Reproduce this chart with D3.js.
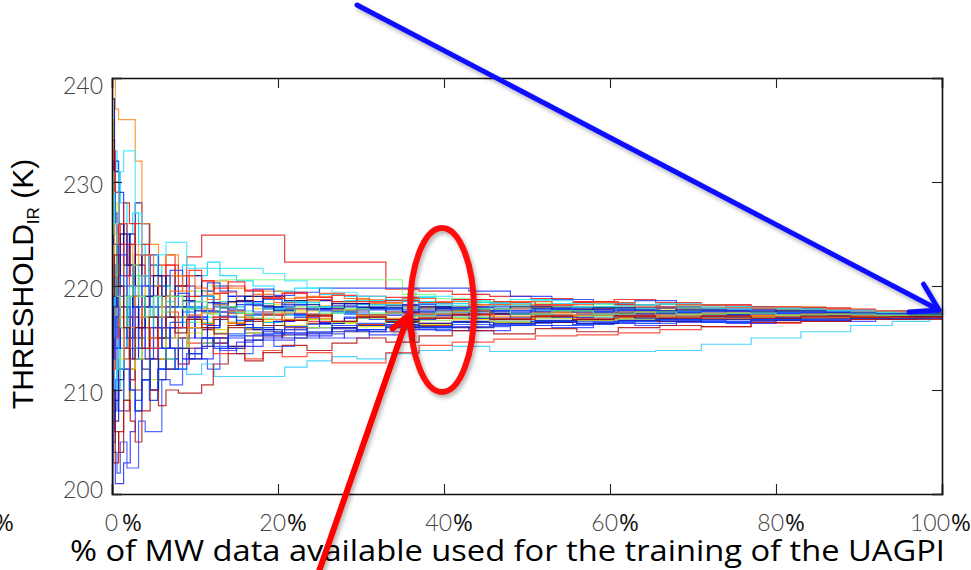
<!DOCTYPE html>
<html>
<head>
<meta charset="utf-8">
<script src="https://cdn.jsdelivr.net/npm/d3@7"></script>
<style>
  body { margin: 0; background: #fff; }
  svg { display: block; }
</style>
</head>
<body>
<div id="chart"></div>
<script>
// sample positions (% of MW data); runs use one of three step grids in turn
const pctStepsA = [0, 0.2, 0.6, 1, 1.8, 2.5, 3.2, 4, 5, 6, 7, 8.5, 10, 11.5, 13, 15, 17, 19.5, 22, 25,
                   28, 31, 35, 39, 43, 48, 53, 58, 63, 68, 74, 80, 86, 92, 97, 100];
const pctStepsB = [0, 0.3, 0.8, 1.4, 2.1, 2.8, 3.6, 4.5, 5.5, 6.5, 7.6, 9, 10.8, 12.3, 14, 16, 18.2, 20.8, 23.5, 26.5,
                   29.5, 33, 37, 41, 45.5, 50.5, 55.5, 60.5, 65.5, 71, 77, 83, 89, 94, 98.5, 100];
const pctStepsC = [0, 0.1, 0.4, 0.8, 1.4, 2.2, 2.8, 3.6, 4.6, 5.6, 6.5, 8, 9.3, 10.8, 12.2, 14, 16, 18.2, 20.5, 23.5,
                   26.5, 29.5, 33, 37, 41, 46, 51, 56, 61, 66, 71, 77, 83, 89, 95, 100];

// threshold values (K) of each training run
const runs = [
  [212,208,214,219,222,218,215,217,219,216,214,215,217,216,218,217,216,215.5,216,216.5,217,216.8,217.2,217.5,217.3,217,217.2,217.4,217.1,216.9,217,217.2,217.1,217,217.1,217.1],
  [225,230,226,221,224,228,226,222,220,221,219,218,219.5,220,219,218.5,219,218.2,218.6,218,218.3,218.1,217.8,218,218.3,218,217.7,217.9,218,217.6,217.5,217.7,217.4,217.3,217.2,217.2],
  [205,203,201,201,203,206,209,211,210,212,213,212.5,214,213,214.5,215,214.2,215,215.5,215.2,216,215.8,216.2,216,216.5,216.3,216.6,216.4,216.7,216.8,216.6,216.9,216.8,217,216.9,216.9],
  [230,233,231,228,225,227,224,221,222,220,221,222,221,222.3,221,220.5,220,219.5,219.8,219.2,219,218.6,218.9,218.3,218.5,218.2,218,218.3,217.9,217.8,218,217.7,217.6,217.5,217.4,217.4],
  [218,222,226,224,220,223,221,219,222,223,221,222.8,224.9,224.9,224.9,224.9,224.9,222.3,222.3,222.3,222.3,219.7,219.5,219.2,219,218.8,218.5,218.7,218.4,218.2,218,217.8,217.6,217.5,217.4,217.4],
  [240,240,237,236,236,236,232,226,224,222,223,221,220,219,220.5,219.8,219,219.5,218.8,219,218.5,218.7,218.2,218.4,218,218.2,217.9,218,217.8,217.9,217.6,217.7,217.5,217.4,217.3,217.3],
  [236,228,222,218,215,217,219,216,218,217,219,218,216.5,217.5,218,217,217.8,218.2,217.6,218,217.7,218.1,217.9,217.6,217.8,218,217.7,217.5,217.8,217.6,217.4,217.5,217.3,217.3,217.2,217.2],
  [210,206,204,208,212,210,213,215,214,212,214,216,215,214.5,216,215.5,216.2,215.8,216.4,216,216.3,216.6,216.2,216.5,216.8,216.5,216.7,216.9,216.6,216.8,216.9,216.7,216.9,217,216.95,216.95],
  [220,226,232,229,225,221,218,220,223,221,219,220,218,219,218.2,219,218.5,217.8,218.4,218,217.6,218,217.7,218,217.5,217.8,217.5,217.3,217.6,217.4,217.2,217.3,217.2,217.1,217.2,217.2],
  [208,204,202,205,202.5,202.5,207,206,206,211,210.5,213,213,212,214,213.5,214.8,214.2,215,215.4,215,215.6,216,215.7,216.1,216.4,216.2,216.5,216.4,216.7,216.6,216.8,216.9,216.8,216.9,216.9],
  [214,210,208,212,215,213,211,213,214,213,212,211.5,212.5,211.3,211.3,211.3,211.3,212.2,212.8,213.2,213,213.5,213.8,214.2,213.7,213.7,213.7,213.7,213.8,214.4,215,215.6,216.2,216.6,216.9,216.9],
  [222,218,213,210,214,216,213,211,213,215,214,212.5,214,215,213.5,214.2,213,213.8,213.2,213.6,212.6,212.6,213.6,214.3,214.6,214.9,215.2,215.3,215.5,215.8,216.1,216.4,216.6,216.8,216.9,216.9],
  [224,219,216,220,223,219,221,218,217,219,220,218.5,219.5,220,220.6,220.6,220.6,220.6,220.6,220.6,220.6,220.6,219.2,218.8,218.5,218.3,218,218.2,217.9,218.1,217.8,217.9,217.6,217.5,217.4,217.4],
  [216,221,224,219,214,216,219,217,215,217,218,216,217.5,218,216.5,217.2,218,217.3,216.8,217.5,217.9,217.4,217,217.6,217.3,217.8,217.5,217.2,217.5,217.3,217.6,217.4,217.2,217.3,217.2,217.2],
  [200,205,209,212,209,211,214,212,210,213,214,215,213.5,214.5,215,214.2,215.2,215.8,215.3,216,215.6,216.2,216.5,216.1,216.6,216.9,216.5,216.8,217,216.8,217,216.9,217.1,217,217,217],
  [219,225,221,217,220,224,222,219,217,219,221,219.5,218,219.2,218.4,219,218.3,217.8,218.6,218.1,217.7,218.3,218,217.6,218.1,217.8,217.5,217.9,217.6,217.8,217.5,217.6,217.4,217.3,217.3,217.3],
  [213,217,220,215,211,214,217,215,213,215,216,214.5,216,215,216.4,215.8,215.2,216,216.6,215.9,216.3,216.8,216.4,216.9,216.6,217,216.7,217,216.8,217.1,216.9,217,216.9,217,217,217],
  [226,222,218,215,219,216,214,217,219,217,215,216,217.8,216.4,217,218,217.2,216.5,217.2,216.8,217.4,217,216.7,217.3,217,216.8,217.2,217,217.4,217.1,217.3,217.2,217.1,217.2,217.1,217.1],
  [232,227,223,226,222,219,222,220,218,220,221.5,220,219,220.3,219.5,219,219.7,219.1,219.4,219.8,219.8,219.8,219.8,219.8,219.5,219,218.7,218.4,218.6,218.2,218,217.9,217.7,217.6,217.5,217.5],
  [221,216,212,216,219,215,218,220,217,216,218,217,215.8,216.8,217.4,216.6,217.2,217.8,217.1,217.6,217.2,216.8,217.3,217.7,217.3,217.5,217.8,217.4,217.6,217.3,217.5,217.4,217.3,217.2,217.2,217.2],
  [207,212,216,213,209,212,215,213,211,213,215,214,215.5,216.5,215.8,216.5,215.9,216.6,216.2,216.8,216.4,216.1,216.6,216.3,216.8,216.5,216.9,216.7,216.9,217,216.8,217,216.9,217,217,217],
  [228,224,218,214,217,213,216,218,216,214,216,217,215,216.2,217,216.3,215.8,216.6,217,216.4,216.9,217.2,216.8,217.2,216.9,217.3,217,217.2,216.9,217.1,217.2,217,217.1,217.1,217.1,217.1],
  [234,229,225,228,226,222,224,221,220,222,220,219,220.5,219.3,220,219.5,218.8,219.4,218.9,218.5,219,218.6,218.3,218.7,218.4,218.1,218.4,218.2,217.9,218.1,217.8,217.9,217.6,217.5,217.4,217.4],
  [203,207,211,208,213,216,213,211,214,212,213,215,216,215,214.2,215.4,216,215.2,215.8,216.3,215.9,216.4,216.1,215.8,216.3,216.6,216.2,216.6,216.4,216.7,216.5,216.8,216.7,216.9,216.9,216.9],
  [217,213,210,214,218,221,219,216,218,220,218,216.5,218,217,218.5,217.6,218.3,217.9,218.4,218,218.6,218.2,218.5,218.1,218.4,218.7,218.3,218,218.2,217.9,218,217.8,217.6,217.5,217.4,217.4],
  [238,231,226,222,225,220,223,219,221,218,220,221,219,217.5,218.5,219,218,218.6,217.8,218.3,217.9,217.5,218,217.7,217.4,217.8,217.5,217.7,217.4,217.6,217.4,217.5,217.3,217.3,217.2,217.2],
  [209,214,218,216,212,215,217,214,216,218,216,215,216.8,217.8,217,216.4,217.3,216.8,217.4,216.9,216.5,217.1,217.5,217,217.3,216.9,217.2,217.4,217.1,217.3,217.1,217.2,217.1,217.1,217.1,217.1],
  [222,217,214,218,215,218,215,213,216,214,216,218,217,216,217.5,218.2,217.5,218,217.3,217.8,217.5,217.9,218.2,217.8,218,217.6,217.9,217.7,217.9,217.5,217.7,217.5,217.4,217.3,217.3,217.3],
  [214,218,222,219,216,213,215,218,216,213,214,216,214.5,215.5,216.2,215.5,216.2,216.8,216,216.5,216.9,216.3,216.7,217,216.6,216.9,217.1,216.8,217,216.9,217.1,217,217,217,217,217],
  [227,233,229,224,221,224,226,223,219,221,222,220,221.5,220.5,219.8,220.4,219.6,218.9,219.3,218.7,219.1,218.5,218.9,218.4,218.7,218.5,218.2,218.5,218.1,218.3,217.9,218,217.7,217.6,217.5,217.5],
  [211,215,219,223,220,217,214,216,214,216,214,213,214,215,213.8,214.6,215.3,214.8,215.4,215,215.7,215.3,215.8,216.1,215.7,216.2,216,216.4,216.2,216.5,216.4,216.7,216.6,216.8,216.9,216.9],
  [229,226,231,233,233,227,223,220,223,224.2,224.2,221.7,221.7,221.7,221.7,221.7,221.2,220.5,219.8,219.4,219,218.7,219,218.6,218.3,218.6,218.3,218.1,218.3,218,217.9,217.7,217.6,217.5,217.5,217.5],
  [215,210,207,211,214,210,208,211,213,211,212,214,213,214.2,215,214,214.8,215.6,215,215.5,216,215.6,216,216.4,216,216.4,216.7,216.4,216.7,216.6,216.8,216.7,216.9,216.9,216.95,216.95],
  [223,219,223,226,222,219,221,223,220,218,219.5,221,219.8,218.7,219.4,218.6,219.2,218.4,218.9,219.3,218.8,218.4,218.8,218.5,218.2,218.5,218.2,218.4,218,218.2,217.9,218,217.8,217.6,217.5,217.5],
  [218,214,216,212,210,208,211,209,212,214,212,213.5,215,214,215.2,216,215.4,216.1,215.6,216.2,215.8,216.3,216,216.5,216.2,216.6,216.3,216.6,216.8,216.5,216.8,216.7,216.9,216.9,217,217],
  [212,207,203,206,209,207,205,208,210,208.5,210,209.7,209.7,210.5,212.5,213.5,212.8,213.6,214.3,213.8,214.5,215,214.6,215.2,215.7,215.4,215.9,215.6,216,216.2,216.1,216.5,216.6,216.8,216.8,216.8],
  [216,219,223,220,217,219,216,218,217,215,216.5,217.5,216.8,217.6,217.1,216.7,217.3,217.7,217.2,217.6,217.3,217.8,217.5,217.2,217.6,217.4,217.7,217.5,217.3,217.5,217.3,217.4,217.3,217.2,217.2,217.2],
  [220,215,212,216,220,218,221,219,217,218.5,217,218,219,218.2,217.5,218.3,217.8,218.5,218,217.6,218.2,217.9,218.3,217.8,218.1,217.7,218,217.8,217.6,217.8,217.5,217.6,217.4,217.3,217.3,217.3],
  [217,212,215,218,214,217,219,216,214,216,217.5,216,217.2,216.3,217,217.6,216.8,217.3,216.7,217.1,216.6,217,217.4,216.9,217.2,216.8,217.1,216.9,217.2,217,216.9,217.1,217,217,217,217],
  [213,218,221,225,222,218,216,219,221,219,217,218.6,217.6,218.4,217.9,218.6,218.1,217.6,218.2,217.8,218.3,217.9,217.5,217.9,217.6,218,217.7,217.9,217.6,217.7,217.5,217.6,217.4,217.3,217.2,217.2],
  [226,221,217,213,216,219,217,215,217,219,217,216,217.4,218.2,217.6,216.9,217.5,216.8,217.3,217.7,217.2,216.9,217.3,217.6,217.1,217.4,217.2,217.5,217.2,217.4,217.2,217.3,217.2,217.2,217.1,217.1],
  [209,213,217,221,218,215,218,220,218,216,218,219.3,218.5,217.6,218.3,217.7,218.2,218.7,218.2,217.7,218.1,217.7,218.1,217.6,217.9,217.6,217.8,217.5,217.7,217.5,217.6,217.4,217.5,217.3,217.3,217.3],
  [231,225,219,216,219,222,219,217,219,217.5,219,217.8,218.5,217.3,218,217.4,216.9,217.5,218,217.4,217.8,217.4,217.1,217.5,217.8,217.3,217.6,217.3,217.5,217.3,217.4,217.2,217.3,217.2,217.2,217.2],
  [219,223,220,216,213,216,214,217,215,217,215.5,216.8,216,215.4,216.2,216.8,216.2,216.7,217.2,216.6,217,216.6,216.9,217.3,216.8,217.1,216.8,217.1,216.9,217.1,216.9,217.1,217,217.05,217.05,217.05]
];

const xMajorTicks = [0, 20, 40, 60, 80, 100];
const xTickNumbers = ["0", "20", "40", "60", "80", "100"];
const yMajorTicks = [200, 210, 220, 230, 240];

// jet-like colours, one per run
const jetColors = ["#1f3cff","#00009c","#2a2aff","#00d8ff","#e8201a","#ff8a1c","#f2d600","#a0141a","#0030ff",
  "#3050ff","#33ccff","#ff3c28","#7cff7c","#1448ff","#10108a","#ffa020","#f03020","#00b8f0","#2040ff",
  "#8c0a10","#e0e000","#0000e0","#d81818","#2858ff","#10e0e8","#000080","#ff7010","#1030f0","#9cf060",
  "#ff2020","#3a3aff","#40e8ff","#1a1aa8","#ff5a20","#0040ff","#b01010",
  "#0050ff","#20d0ff","#ff2a10","#0a0a90","#ff9010","#2840ff","#60f080","#900a10"];

const width = 971, height = 570;
const plot = {left: 112, right: 942, top: 78, bottom: 494};

const svg = d3.select("#chart").append("svg")
    .attr("width", width)
    .attr("height", height)
    .style("background", "#fff");

const x = d3.scaleLinear().domain([0, 100]).range([plot.left, plot.right]);
const y = d3.scaleLinear().domain([200, 240]).range([plot.bottom, plot.top]);
const color = d3.scaleOrdinal().domain(d3.range(runs.length)).range(jetColors);
const grids = [pctStepsA, pctStepsB, pctStepsC];

const defs = svg.append("defs");
defs.append("clipPath").attr("id", "plotclip")
  .append("rect")
    .attr("x", plot.left).attr("y", plot.top)
    .attr("width", plot.right - plot.left).attr("height", plot.bottom - plot.top);

const shadow = defs.append("filter").attr("id", "shadow")
    .attr("x", "-10%").attr("y", "-10%").attr("width", "130%").attr("height", "130%");
shadow.append("feDropShadow")
    .attr("dx", 2).attr("dy", 3).attr("stdDeviation", 2)
    .attr("flood-color", "#000").attr("flood-opacity", 0.3);

// runs
function runLine(vals, k){
    const steps = grids[k % grids.length];
    return d3.line()
        .x((d, i) => x(steps[i]))
        .y(d => y(d))
        .curve(d3.curveStepAfter)(vals);
}

svg.append("g").attr("clip-path", "url(#plotclip)")
  .selectAll("path")
  .data(runs)
  .join("path")
    .attr("d", (d, i) => runLine(d, i))
    .attr("fill", "none")
    .attr("stroke", (d, i) => color(i))
    .attr("stroke-width", 1.2)
    .attr("stroke-opacity", 0.85);

// frame with inward ticks (IDL style)
const xMinor = d3.range(0, 101, 5);
const yMinor = d3.range(200, 241, 1);

function addAxis(axisFn, scale, translate, major, minor){
    const g = svg.append("g").attr("transform", translate);
    g.call(axisFn(scale).tickValues(minor).tickSize(-5).tickFormat(""));
    g.call(axisFn(scale).tickValues(major).tickSize(-10).tickFormat(""));
    g.selectAll("line").attr("stroke", "#222").attr("stroke-width", 1.1);
    g.selectAll(".domain").attr("stroke", "#111").attr("stroke-width", 1.6);
}
addAxis(d3.axisBottom, x, `translate(0,${plot.bottom})`, xMajorTicks, xMinor);
addAxis(d3.axisTop, x, `translate(0,${plot.top})`, xMajorTicks, xMinor);
addAxis(d3.axisLeft, y, `translate(${plot.left},0)`, yMajorTicks, yMinor);
addAxis(d3.axisRight, y, `translate(${plot.right},0)`, yMajorTicks, yMinor);

// tick labels: gray number, black "%" set in the slide font
const tickFont = "Lato, 'DejaVu Sans', sans-serif";
const xLab = svg.append("g");

xLab.selectAll("text.num")
  .data(xMajorTicks)
  .join("text")
    .attr("class", "num")
    .attr("x", (d, i) => x(d) + (i === 0 ? 6 : 8))
    .attr("y", 531)
    .attr("text-anchor", "end")
    .attr("fill", "#444")
    .style("font-family", tickFont)
    .style("font-weight", 300)
    .style("font-size", "23px")
    .text((d, i) => xTickNumbers[i]);

xLab.selectAll("text.pct")
  .data(xMajorTicks)
  .join("text")
    .attr("class", "pct")
    .attr("x", (d, i) => x(d) + (i === 0 ? 10 : 9))
    .attr("y", 531)
    .attr("fill", "#111")
    .style("font-family", "'Open Sans', sans-serif")
    .style("font-size", "24px")
    .text("%");

// stray "%" at the left edge
svg.append("text")
    .attr("x", -6).attr("y", 531)
    .attr("fill", "#111")
    .style("font-family", "'Open Sans', sans-serif").style("font-size", "24px")
    .text("%");

svg.append("g").selectAll("text")
  .data(yMajorTicks)
  .join("text")
    .attr("x", 103)
    .attr("y", d => Math.max(86, Math.min(490, y(d) + 3)))
    .attr("dy", "0.35em")
    .attr("text-anchor", "end")
    .attr("fill", "#444")
    .style("font-family", tickFont)
    .style("font-weight", 300)
    .style("font-size", "23px")
    .text(d => d);

// axis titles
svg.append("text")
    .attr("x", 70).attr("y", 561)
    .attr("textLength", 875)
    .attr("lengthAdjust", "spacingAndGlyphs")
    .attr("fill", "#000")
    .style("font-family", "'Open Sans', sans-serif")
    .style("font-size", "29px")
    .text("% of MW data available used for the training of the UAGPI");

const yt = svg.append("text")
    .attr("transform", "translate(33,284) rotate(-90)")
    .attr("text-anchor", "middle")
    .attr("fill", "#000")
    .style("font-family", "'Liberation Sans', Arial, sans-serif")
    .style("font-size", "30px");
yt.append("tspan").text("THRESHOLD");
yt.append("tspan").attr("dy", 6).style("font-size", "17px").text("IR");
yt.append("tspan").attr("dy", -6).text(" (K)");

// annotations
function arrow(x1, y1, x2, y2, col, w, head){
    const a = Math.atan2(y2 - y1, x2 - x1);
    const g = svg.append("g").attr("filter", "url(#shadow)")
        .attr("fill", "none").attr("stroke", col).attr("stroke-width", w)
        .attr("stroke-linecap", "round").attr("stroke-linejoin", "round");
    g.append("line").attr("x1", x1).attr("y1", y1).attr("x2", x2).attr("y2", y2);
    const p = d3.path();
    p.moveTo(x2 - head * Math.cos(a - 0.55), y2 - head * Math.sin(a - 0.55));
    p.lineTo(x2, y2);
    p.lineTo(x2 - head * Math.cos(a + 0.55), y2 - head * Math.sin(a + 0.55));
    g.append("path").attr("d", p.toString());
}

arrow(357, 5, 939, 310, "#0a0aff", 5, 30);

svg.append("ellipse")
    .attr("cx", 442).attr("cy", 310).attr("rx", 32).attr("ry", 82)
    .attr("fill", "none").attr("stroke", "#ff0a0a").attr("stroke-width", 6)
    .attr("filter", "url(#shadow)");

arrow(316, 580, 408, 316, "#ff0000", 6, 20);
</script>
</body>
</html>
